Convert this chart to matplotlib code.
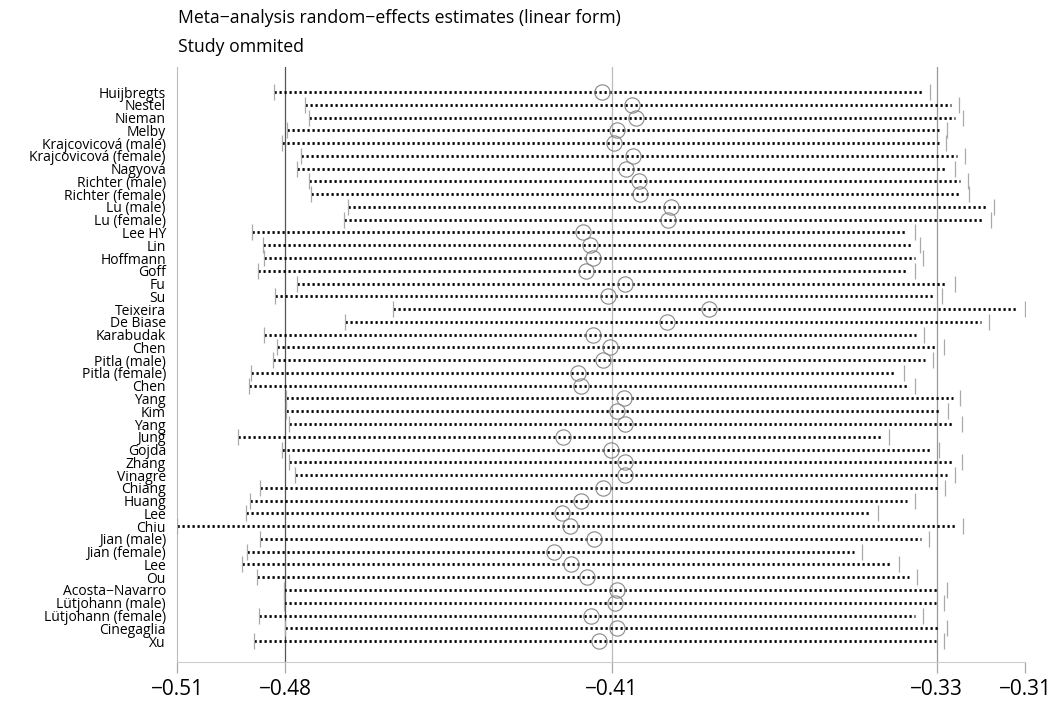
import matplotlib
matplotlib.use("Agg")
import matplotlib.pyplot as plt
import numpy as np

plt.rcParams['font.family'] = ['Open Sans', 'DejaVu Sans']

studies = ["Huijbregts", "Nestel", "Nieman", "Melby", "Krajcovicová (male)",
           "Krajcovicová (female)", "Nagyová", "Richter (male)", "Richter (female)",
           "Lu (male)", "Lu (female)", "Lee HY", "Lin", "Hoffmann", "Goff", "Fu", "Su",
           "Teixeira", "De Biase", "Karabudak", "Chen", "Pitla (male)", "Pitla (female)",
           "Chen", "Yang", "Kim", "Yang", "Jung", "Gojda", "Zhang", "Vinagre", "Chiang",
           "Huang", "Lee", "Chiu", "Jian (male)", "Jian (female)", "Lee", "Ou",
           "Acosta\u2212Navarro", "Lütjohann (male)", "Lütjohann (female)", "Cinegaglia", "Xu"]

# estimate with the study omitted, and its 95% CI
est = [-0.4089, -0.4019, -0.4010, -0.4053, -0.4061, -0.4015, -0.4032, -0.4002, -0.4000,
       -0.3927, -0.3935, -0.4133, -0.4115, -0.4109, -0.4126, -0.4034, -0.4074, -0.3839,
       -0.3937, -0.4109, -0.4069, -0.4086, -0.4145, -0.4136, -0.4038, -0.4054, -0.4034,
       -0.4179, -0.4068, -0.4034, -0.4035, -0.4086, -0.4136, -0.4181, -0.4163, -0.4107,
       -0.4199, -0.4160, -0.4124, -0.4054, -0.4059, -0.4114, -0.4053, -0.4095]
lower = [-0.4852, -0.4780, -0.4771, -0.4821, -0.4833, -0.4788, -0.4798, -0.4769, -0.4766,
         -0.4680, -0.4688, -0.4902, -0.4878, -0.4875, -0.4888, -0.4799, -0.4849, -0.4575,
         -0.4687, -0.4875, -0.4844, -0.4853, -0.4906, -0.4909, -0.4823, -0.4823, -0.4816,
         -0.4936, -0.4833, -0.4816, -0.4802, -0.4885, -0.4908, -0.4916, -0.5077, -0.4885,
         -0.4914, -0.4927, -0.4890, -0.4827, -0.4828, -0.4887, -0.4826, -0.4897]
upper = [-0.3324, -0.3257, -0.3249, -0.3285, -0.3287, -0.3243, -0.3267, -0.3236, -0.3234,
         -0.3175, -0.3184, -0.3360, -0.3349, -0.3341, -0.3360, -0.3267, -0.3298, -0.3104,
         -0.3188, -0.3340, -0.3293, -0.3318, -0.3385, -0.3360, -0.3254, -0.3283, -0.3250,
         -0.3421, -0.3303, -0.3250, -0.3267, -0.3289, -0.3360, -0.3446, -0.3248, -0.3328,
         -0.3483, -0.3397, -0.3356, -0.3285, -0.3293, -0.3342, -0.3285, -0.3293]

# overall pooled estimate and CI
overall_est = -0.4065
overall_lo = -0.4825
overall_hi = -0.3309

# the dotted line stops a little short of the upper tick (as in stata's rendering)
END_GAP = 0.0018

fig = plt.figure(figsize=(10.52, 7.03), dpi=100)
ax = fig.add_axes([0.1683, 0.0583, 0.806, 0.8464])

y = np.arange(len(studies))
xmin = min(lower)
xmax = max(upper)

# reference lines
ax.axvline(overall_lo, color='#555555', lw=0.9, zorder=1)
ax.axvline(overall_est, color='#bbbbbb', lw=0.9, zorder=1)
ax.axvline(overall_hi, color='#999999', lw=0.9, zorder=1)

for i in range(len(studies)):
    ax.plot([lower[i], upper[i] - END_GAP], [y[i], y[i]], color='black', lw=2.0,
            linestyle=(0, (0.8, 1.0)), zorder=2)
ax.plot(lower, y, linestyle='none', marker='|', markersize=11, mew=0.9, color='#aaaaaa', zorder=3)
ax.plot(upper, y, linestyle='none', marker='|', markersize=11, mew=0.9, color='#aaaaaa', zorder=3)
ax.plot(est, y, linestyle='none', marker='o', markersize=11, mfc='none', mec='#888888',
        mew=0.8, zorder=4)

ax.set_xlim(xmin, xmax)
ax.set_ylim(len(studies) - 1 + 1.64, -1.96)

ticks = [xmin, overall_lo, overall_est, overall_hi, xmax]
ax.set_xticks(ticks)
ax.set_xticklabels([f"{t:.2f}".replace("-", "\u2212") for t in ticks], fontsize=15)
ax.tick_params(axis='x', length=8, width=0.9, color='#aaaaaa', pad=4)

ax.set_yticks(y)
ax.set_yticklabels(studies, fontsize=10)
ax.tick_params(axis='y', length=0, pad=8)

for s in ['top', 'right']:
    ax.spines[s].set_visible(False)
ax.spines['left'].set_color('#bbbbbb')
ax.spines['bottom'].set_color('#cccccc')

fig.text(0.1692, 0.974, "Meta\u2212analysis random\u2212effects estimates (linear form)",
         fontsize=12.7, va='center', ha='left')
fig.text(0.1692, 0.933, "Study ommited", fontsize=12.7, va='center', ha='left')

fig.savefig("out.png", dpi=100)
